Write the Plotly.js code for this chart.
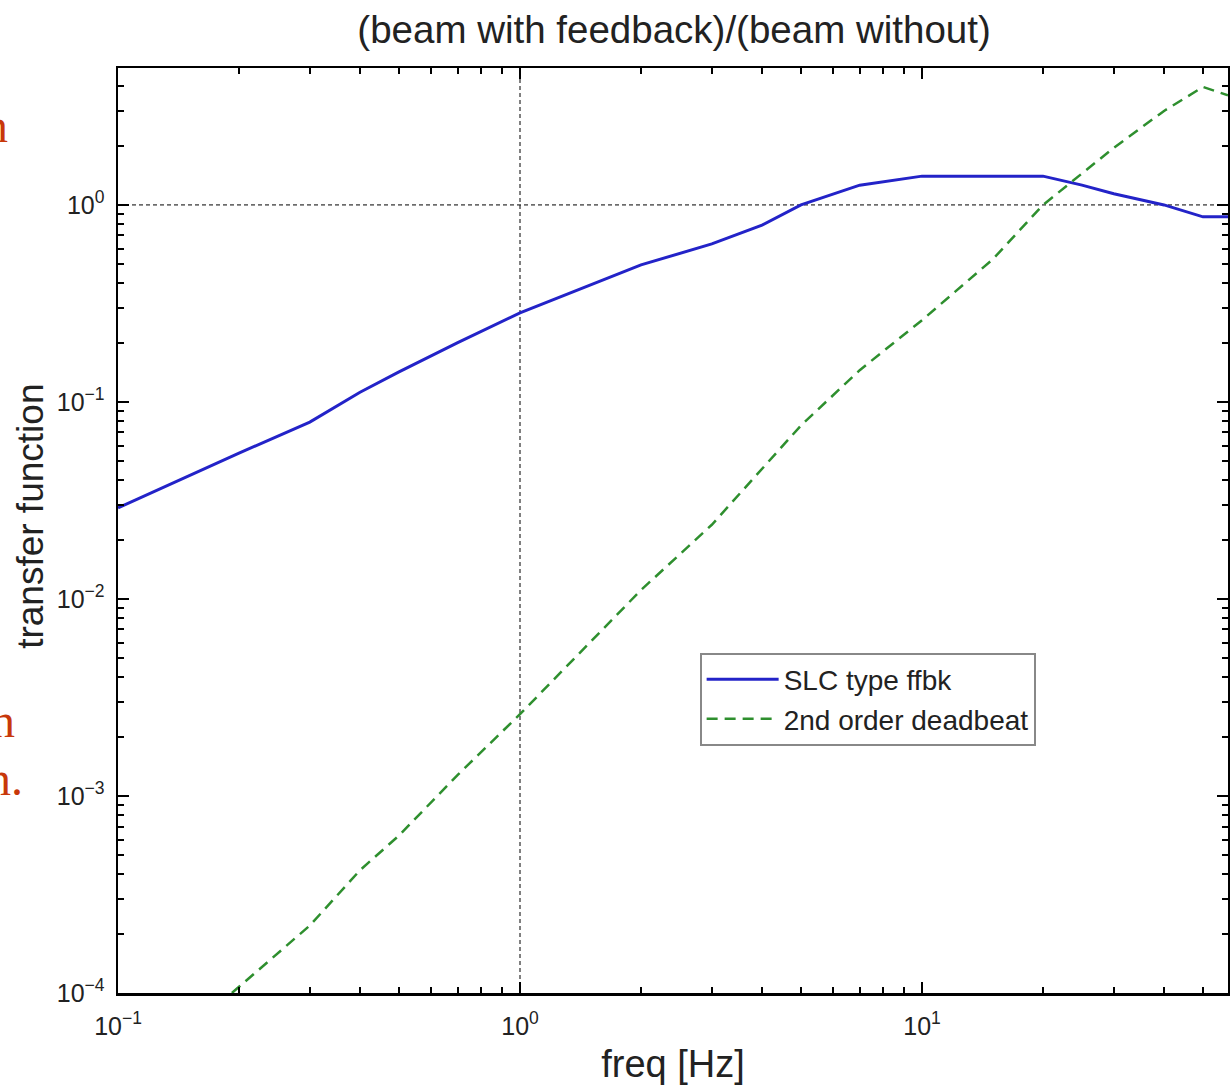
<!DOCTYPE html>
<html>
<head>
<meta charset="utf-8">
<script src="https://cdn.plot.ly/plotly-3.0.1.min.js"></script>
<style>html,body{margin:0;padding:0;background:#fff;}#chart{width:1230px;height:1088px;}</style>
</head>
<body>
<div id="chart"></div>
<script>
// Data
const slcFreq = [0.1, 0.2, 0.3, 0.4, 0.5, 0.7, 1, 2, 3, 4, 5, 7, 10, 20, 25, 30, 40, 50, 57.7];
const slcTF   = [0.029, 0.055, 0.079, 0.112, 0.142, 0.2, 0.283, 0.496, 0.634, 0.79, 1.0, 1.26, 1.40, 1.40, 1.26, 1.14, 1.0, 0.87, 0.87];

const dbFreq = [0.192, 0.3, 0.4, 0.5, 0.7, 1, 2, 3, 5, 7, 10, 15, 20, 30, 40, 50, 57.7];
const dbTF   = [1e-4, 2.2e-4, 4.2e-4, 6.3e-4, 1.28e-3, 2.6e-3, 0.0111, 0.0238, 0.076, 0.145, 0.26, 0.53, 1.0, 1.95, 3.0, 3.97, 3.6];

const seriesNames = ['SLC type ffbk', '2nd order deadbeat'];
const xDecades = [0.1, 1, 10];
const xTickText = ['10<sup>−1</sup>', '10<sup>0</sup>', '10<sup>1</sup>'];
const yDecades = [1e-4, 1e-3, 1e-2, 1e-1, 1];
const yTickText = ['10<sup>−4</sup>', '10<sup>−3</sup>', '10<sup>−2</sup>', '10<sup>−1</sup>', '10<sup>0</sup>'];
const minorMultipliers = [2, 3, 4, 5, 6, 7, 8, 9];

const titleText = '(beam with feedback)/(beam without)';
const xTitle = 'freq [Hz]';
const yTitle = 'transfer function';
const sideTexts = ['n', 'n', 'n.'];

const font = 'Liberation Sans, Arial, sans-serif';

function minorVals(decades) {
  const out = [];
  decades.forEach(d => minorMultipliers.forEach(m => out.push(d * m)));
  return out;
}

const traces = [
  {x: slcFreq, y: slcTF, name: seriesNames[0], mode: 'lines', type: 'scatter',
   line: {color: '#2323c8', width: 3}},
  {x: dbFreq, y: dbTF, name: seriesNames[1], mode: 'lines', type: 'scatter',
   line: {color: '#2e8f2e', width: 2.5, dash: '11px,7px'}},
  // invisible trace to carry the second (major tick) axes
  {x: [xDecades[0]], y: [yDecades[0]], xaxis: 'x2', yaxis: 'y2', mode: 'markers',
   marker: {opacity: 0}, showlegend: false, hoverinfo: 'skip'}
];

const xRange = [-1, Math.log10(57.7)];
const yRange = [-4, 0.695];

const base = {
  type: 'log', showline: true, mirror: 'ticks', linecolor: '#000', linewidth: 2.5,
  ticks: 'inside', tickcolor: '#000', showgrid: false, zeroline: false, tickmode: 'array'
};

const layout = {
  width: 1230, height: 1088,
  margin: {l: 118, r: 2, t: 68, b: 95},
  paper_bgcolor: '#fff', plot_bgcolor: 'rgba(0,0,0,0)',
  showlegend: true,
  title: {text: titleText, x: 0.548, xanchor: 'center', y: 0.973, yanchor: 'middle',
          font: {family: font, size: 38.5, color: '#222'}},
  xaxis: Object.assign({}, base, {
    range: xRange,
    tickvals: xDecades.concat(minorVals([0.1, 1, 10])),
    ticktext: xTickText.concat(minorVals([0.1, 1, 10]).map(() => '')),
    ticklen: 6, tickwidth: 2, ticklabelstandoff: 9,
    tickfont: {family: font, size: 25, color: '#222'},
    title: {text: xTitle, font: {family: font, size: 38, color: '#222'}, standoff: 12}
  }),
  yaxis: Object.assign({}, base, {
    range: yRange,
    tickvals: yDecades.concat(minorVals([1e-4, 1e-3, 1e-2, 1e-1, 1])),
    ticktext: yTickText.concat(minorVals([1e-4, 1e-3, 1e-2, 1e-1, 1]).map(() => '')),
    ticklen: 6, tickwidth: 2, ticklabelstandoff: 6,
    tickfont: {family: font, size: 25, color: '#222'}
  }),
  xaxis2: Object.assign({}, base, {
    overlaying: 'x', anchor: 'y2', range: xRange, tickvals: xDecades, showticklabels: false,
    ticklen: 11, tickwidth: 2.5
  }),
  yaxis2: Object.assign({}, base, {
    overlaying: 'y', anchor: 'x2', range: yRange, tickvals: yDecades, showticklabels: false,
    ticklen: 11, tickwidth: 2.5
  }),
  legend: {x: 0.524, y: 0.368, xanchor: 'left', yanchor: 'top',
           bgcolor: '#fff', bordercolor: '#888', borderwidth: 2, itemwidth: 72,
           font: {family: font, size: 28, color: '#222'}, tracegroupgap: 0},
  shapes: [
    {type: 'line', xref: 'x', yref: 'paper', x0: 1, x1: 1, y0: 0, y1: 1,
     line: {color: '#000', width: 1, dash: '4px,3px'}, layer: 'below'},
    {type: 'line', xref: 'paper', yref: 'y', x0: 0, x1: 1, y0: 1, y1: 1,
     line: {color: '#000', width: 1, dash: '4px,3px'}, layer: 'below'}
  ],
  annotations: [
    {text: yTitle, textangle: -90, xref: 'paper', yref: 'paper', x: -0.0785, y: 0.5157,
     xanchor: 'center', yanchor: 'middle', showarrow: false,
     font: {family: font, size: 37, color: '#222'}},
    {text: sideTexts[0], xref: 'paper', yref: 'paper', x: -0.0973, y: 0.938, xanchor: 'right', yanchor: 'middle',
     showarrow: false, font: {family: 'Liberation Serif, serif', size: 48, color: '#c8380a'}},
    {text: sideTexts[1], xref: 'paper', yref: 'paper', x: -0.0913, y: 0.295, xanchor: 'right', yanchor: 'middle',
     showarrow: false, font: {family: 'Liberation Serif, serif', size: 48, color: '#c8380a'}},
    {text: sideTexts[2], xref: 'paper', yref: 'paper', x: -0.0838, y: 0.232, xanchor: 'right', yanchor: 'middle',
     showarrow: false, font: {family: 'Liberation Serif, serif', size: 48, color: '#c8380a'}}
  ]
};

Plotly.newPlot('chart', traces, layout, {displayModeBar: false, staticPlot: true});
</script>
</body>
</html>
